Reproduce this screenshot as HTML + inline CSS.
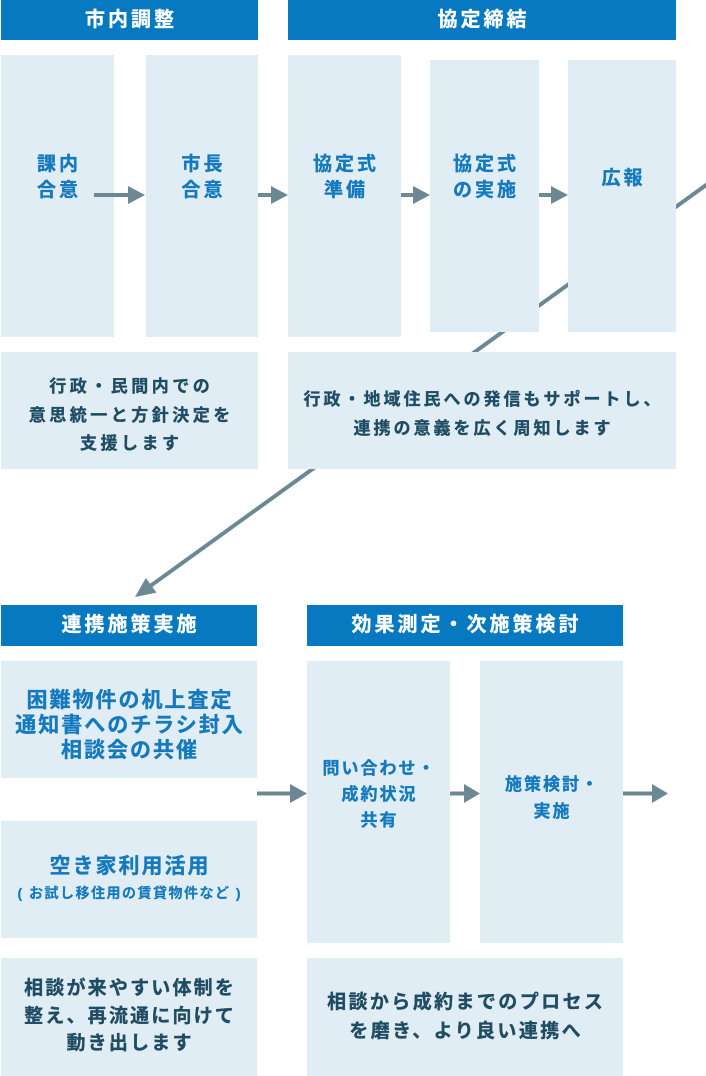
<!DOCTYPE html>
<html lang="ja">
<head>
<meta charset="utf-8">
<style>
  html,body{margin:0;padding:0;background:#fff;}
  body{width:706px;height:1076px;position:relative;overflow:hidden;
    font-family:"Liberation Sans","Noto Sans CJK JP",sans-serif;font-weight:700;}
  .hdr{position:absolute;background:#0779c0;color:#fff;font-size:20px;letter-spacing:3px;
    text-align:center;box-sizing:border-box;padding-left:3px;-webkit-text-stroke:0.3px #fff;}
  .box{position:absolute;background:#e1edf4;}
  .t{position:absolute;text-align:center;white-space:nowrap;box-sizing:border-box;}
  .blue{color:#1479bd;-webkit-text-stroke:0.35px #1479bd;}
  .dark{color:#1f4c63;-webkit-text-stroke:0.35px #1f4c63;}
  svg{position:absolute;left:0;top:0;}
</style>
</head>
<body>

<!-- diagonal connector (beneath boxes) -->
<svg width="706" height="1076" viewBox="0 0 706 1076">
  <line x1="720" y1="175" x2="151" y2="585.5" stroke="#6c8893" stroke-width="4"/>
  <polygon points="135,597 156.5,592.6 145.9,578" fill="#6c8893"/>
</svg>

<!-- headers top -->
<div class="hdr" style="left:1px;top:0;width:257px;height:40px;line-height:40px;">市内調整</div>
<div class="hdr" style="left:288px;top:0;width:388px;height:40px;line-height:40px;">協定締結</div>

<!-- row 1 boxes -->
<div class="box" style="left:1px;top:55px;width:113px;height:282px;"></div>
<div class="box" style="left:146px;top:55px;width:112px;height:282px;"></div>
<div class="box" style="left:288px;top:55px;width:113px;height:282px;"></div>
<div class="box" style="left:430px;top:60px;width:109px;height:272px;"></div>
<div class="box" style="left:568px;top:60px;width:108px;height:272px;"></div>

<div class="t blue" style="left:1px;top:152px;width:113px;font-size:19px;line-height:25.5px;letter-spacing:3px;padding-left:3px;">課内<br>合意</div>
<div class="t blue" style="left:146px;top:152px;width:112px;font-size:19px;line-height:25.5px;letter-spacing:3px;padding-left:3px;">市長<br>合意</div>
<div class="t blue" style="left:288px;top:152px;width:113px;font-size:19px;line-height:25.5px;letter-spacing:3px;padding-left:3px;">協定式<br>準備</div>
<div class="t blue" style="left:430px;top:152px;width:109px;font-size:19px;line-height:25.5px;letter-spacing:3px;padding-left:3px;">協定式<br>の実施</div>
<div class="t blue" style="left:568px;top:166px;width:108px;font-size:19px;line-height:25.5px;letter-spacing:3px;padding-left:3px;">広報</div>

<!-- row 2 text boxes -->
<div class="box" style="left:1px;top:352px;width:257px;height:117px;"></div>
<div class="box" style="left:288px;top:352px;width:388px;height:117px;"></div>
<div class="t dark" style="left:1px;top:373px;width:257px;font-size:17px;line-height:28.5px;letter-spacing:3.5px;padding-left:3.5px;">行政・民間内での<br>意思統一と方針決定を<br>支援します</div>
<div class="t dark" style="left:288px;top:385px;width:388px;font-size:17px;line-height:29px;letter-spacing:3px;padding-left:3px;">行政・地域住民への発信もサポートし、<br>連携の意義を広く周知します</div>

<!-- headers bottom -->
<div class="hdr" style="left:1px;top:605px;width:256px;height:41px;line-height:41px;">連携施策実施</div>
<div class="hdr" style="left:307px;top:605px;width:316px;height:41px;line-height:41px;">効果測定・次施策検討</div>

<!-- bottom left boxes -->
<div class="box" style="left:1px;top:661px;width:256px;height:117px;"></div>
<div class="box" style="left:1px;top:821px;width:256px;height:117px;"></div>
<div class="box" style="left:1px;top:958px;width:256px;height:118px;"></div>

<div class="t blue" style="left:1px;top:688px;width:256px;font-size:21px;line-height:25px;letter-spacing:2px;padding-left:2px;">困難物件の机上査定<br>通知書へのチラシ封入<br>相談会の共催</div>
<div class="t blue" style="left:1px;top:854px;width:256px;font-size:21px;line-height:26px;letter-spacing:2px;padding-left:2px;">空き家利用活用</div>
<div class="t blue" style="left:1px;top:883px;width:256px;font-size:14px;line-height:20px;letter-spacing:1.5px;padding-left:1.5px;-webkit-text-stroke:0.2px #1479bd;">( お試し移住用の賃貸物件など )</div>
<div class="t dark" style="left:1px;top:975px;width:256px;font-size:19px;line-height:27.5px;letter-spacing:2.2px;padding-left:2.2px;">相談が来やすい体制を<br>整え、再流通に向けて<br>動き出します</div>

<!-- bottom right boxes -->
<div class="box" style="left:307px;top:661px;width:143px;height:282px;"></div>
<div class="box" style="left:480px;top:661px;width:143px;height:282px;"></div>
<div class="box" style="left:307px;top:958px;width:316px;height:118px;"></div>

<div class="t blue" style="left:307px;top:756px;width:143px;font-size:17px;line-height:26px;letter-spacing:2px;padding-left:2px;">問い合わせ・<br>成約状況<br>共有</div>
<div class="t blue" style="left:480px;top:771px;width:143px;font-size:17px;line-height:27px;letter-spacing:2px;padding-left:2px;">施策検討・<br>実施</div>
<div class="t dark" style="left:307px;top:988px;width:316px;font-size:19px;line-height:29px;letter-spacing:2.4px;padding-left:2.4px;">相談から成約までのプロセス<br>を磨き、より良い連携へ</div>

<!-- horizontal arrows (above boxes) -->
<svg width="706" height="1076" viewBox="0 0 706 1076">
  <g fill="#6c8893" stroke="none">
    <rect x="94" y="193" width="35" height="4"/>
    <polygon points="128,186 145,195 128,204"/>
    <rect x="258" y="193" width="14" height="4"/>
    <polygon points="271,186 288,195 271,204"/>
    <rect x="401" y="193" width="13" height="4"/>
    <polygon points="413,186 430,195 413,204"/>
    <rect x="539" y="193" width="13" height="4"/>
    <polygon points="551,186 568,195 551,204"/>

    <rect x="257" y="791.5" width="34" height="4"/>
    <polygon points="290,784 307,793.5 290,803"/>
    <rect x="450" y="791.5" width="15" height="4"/>
    <polygon points="464,784 480,793.5 464,803"/>
    <rect x="623" y="791.5" width="30" height="4"/>
    <polygon points="652,784 668,793.5 652,803"/>
  </g>
</svg>

</body>
</html>
